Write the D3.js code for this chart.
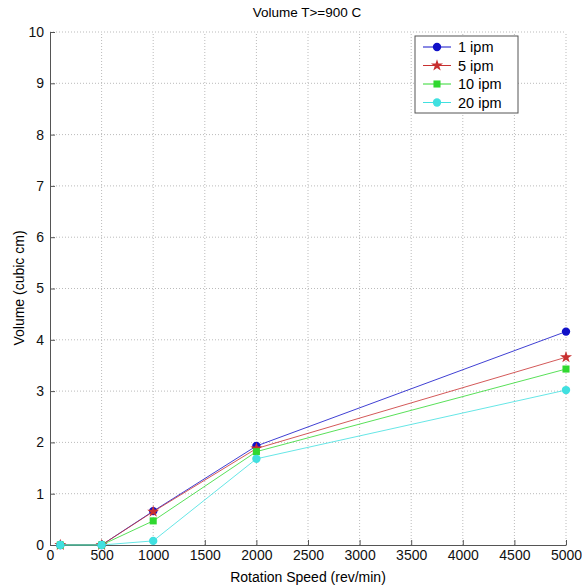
<!DOCTYPE html>
<html lang="en">
<head>
<meta charset="UTF-8">
<title>Volume T>=900 C</title>
<style>
  body { margin: 0; background: #fff; }
  svg  { display: block; font-family: "Liberation Sans", Arial, sans-serif; }
  .grid line { stroke: #bbb; stroke-dasharray: 1,2; }
  .tick text { font-size: 14px; fill: #111; }
</style>
</head>
<body>
<svg id="chart" width="582" height="588"></svg>
<script src="https://d3js.org/d3.v7.min.js"></script>
<script>
/* ---------------- Data ---------------- */
const speeds = [100, 500, 1000, 2000, 5000];
const ipm1  = [0, 0, 0.66, 1.93, 4.16];
const ipm5  = [0, 0, 0.65, 1.88, 3.66];
const ipm10 = [0, 0, 0.47, 1.82, 3.43];
const ipm20 = [0, 0, 0.08, 1.68, 3.02];
const seriesNames = ['1 ipm', '5 ipm', '10 ipm', '20 ipm'];
const xTicks = [0, 500, 1000, 1500, 2000, 2500, 3000, 3500, 4000, 4500, 5000];
const yTicks = [0, 1, 2, 3, 4, 5, 6, 7, 8, 9, 10];

const series = [
  { name: seriesNames[0], values: ipm1,  color: '#1010c8', symbol: d3.symbolCircle, size: 55 },
  { name: seriesNames[1], values: ipm5,  color: '#c83030', symbol: d3.symbolStar,   size: 45 },
  { name: seriesNames[2], values: ipm10, color: '#30d830', symbol: d3.symbolSquare, size: 50 },
  { name: seriesNames[3], values: ipm20, color: '#40e0e0', symbol: d3.symbolCircle, size: 55 }
];

/* ---------------- Layout ---------------- */
const m = { left: 50, right: 16, top: 32, bottom: 43 };
const W = 582, H = 588;
const svg = d3.select('#chart');

const x = d3.scaleLinear().domain([0, 5000]).range([m.left, W - m.right]);
const y = d3.scaleLinear().domain([0, 10]).range([H - m.bottom, m.top]);

/* grid */
const grid = svg.append('g').attr('class', 'grid');
grid.selectAll('.gx').data(xTicks.slice(1)).enter().append('line')
  .attr('x1', d => x(d)).attr('x2', d => x(d))
  .attr('y1', y(0)).attr('y2', y(10));
grid.selectAll('.gy').data(yTicks.slice(1)).enter().append('line')
  .attr('x1', x(0)).attr('x2', x(5000))
  .attr('y1', d => y(d)).attr('y2', d => y(d));

/* axes */
svg.append('g')
  .attr('transform', `translate(0,${y(0)})`)
  .call(d3.axisBottom(x).tickValues(xTicks).tickFormat(d3.format('d'))
    .tickSizeInner(-5).tickSizeOuter(0).tickPadding(5))
  .call(g => g.select('.domain').attr('stroke', '#555'))
  .call(g => g.selectAll('.tick line').attr('stroke', '#555'));

svg.append('g')
  .attr('transform', `translate(${x(0)},0)`)
  .call(d3.axisLeft(y).tickValues(yTicks).tickSizeInner(-5).tickSizeOuter(0).tickPadding(6))
  .call(g => g.select('.domain').attr('stroke', '#555'))
  .call(g => g.selectAll('.tick line').attr('stroke', '#555'));

/* labels */
svg.append('text').attr('x', 307).attr('y', 17).attr('text-anchor', 'middle')
  .attr('font-size', 13.5).text('Volume T>=900 C');
svg.append('text').attr('x', 308).attr('y', 582).attr('text-anchor', 'middle')
  .attr('font-size', 14).text('Rotation Speed (rev/min)');
svg.append('text').attr('transform', 'translate(24,288) rotate(-90)')
  .attr('text-anchor', 'middle').attr('font-size', 14).text('Volume (cubic cm)');

/* lines + markers */
const line = d3.line().x((d, i) => x(speeds[i])).y(d => y(d));
series.forEach(s => {
  svg.append('path').datum(s.values)
    .attr('d', line).attr('fill', 'none')
    .attr('stroke', s.color).attr('stroke-width', 1).attr('stroke-opacity', 0.8);
  svg.append('g').selectAll('path').data(s.values).enter().append('path')
    .attr('transform', (d, i) => `translate(${x(speeds[i])},${y(d)})`)
    .attr('d', d3.symbol().type(s.symbol).size(s.size))
    .attr('fill', s.color);
});

/* legend */
const lg = svg.append('g').attr('transform', 'translate(415,36)');
lg.append('rect').attr('width', 103).attr('height', 77)
  .attr('fill', '#fff').attr('stroke', '#555');
series.forEach((s, i) => {
  const ly = 11 + i * 18.5;
  lg.append('line').attr('x1', 8).attr('x2', 36).attr('y1', ly).attr('y2', ly)
    .attr('stroke', s.color);
  lg.append('path').attr('transform', `translate(22,${ly})`)
    .attr('d', d3.symbol().type(s.symbol).size(s.size)).attr('fill', s.color);
  lg.append('text').attr('x', 43).attr('y', ly + 5).attr('font-size', 14.5).text(s.name);
});
</script>
</body>
</html>
